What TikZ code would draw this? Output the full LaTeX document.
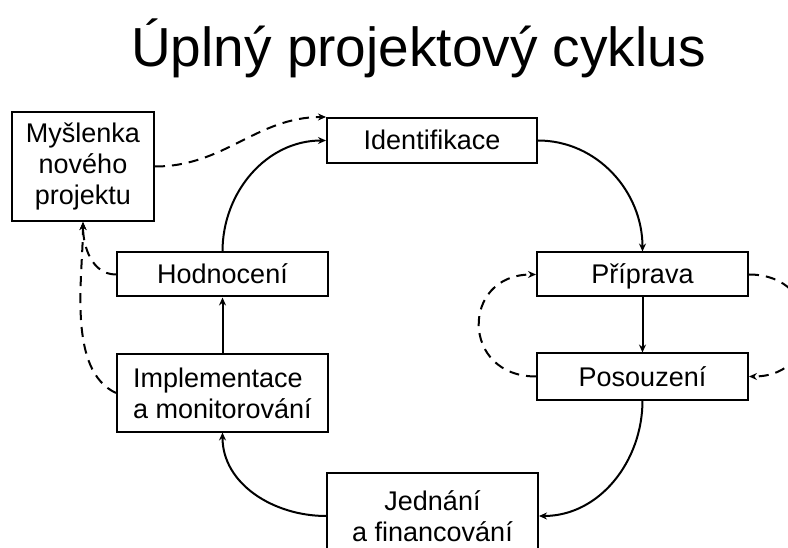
\documentclass[tikz,border=0pt]{standalone}
\usepackage{fontspec}
\setmainfont{Liberation Sans}
\usetikzlibrary{arrows.meta,positioning}

\begin{document}
\begin{tikzpicture}[
  x=1pt, y=-1pt,
  box/.style={rectangle, draw=black, line width=2pt, align=center, inner sep=0pt, minimum width=211pt, minimum height=44pt, font=\fontsize{27}{31}\selectfont},
  onebox/.style={box, text height=19pt, text depth=0pt},
  line/.style={-{Stealth[length=8pt,width=7pt]}, line width=2pt},
  dashline/.style={line, dash pattern=on 10pt off 7pt}
]
\useasboundingbox[fill=white] (0,0) rectangle (788,548);

\node[anchor=base west, font=\fontsize{55}{60}\selectfont, inner sep=0pt] (title) at (131,67) {Úplný projektový cyklus};

\node[box, minimum width=142pt, minimum height=109pt] (idea) at (83,166.5) {Myšlenka\\nového\\projektu};
\node[onebox, minimum width=210pt, minimum height=45pt] (ident) at (432,140.5) {Identifikace};
\node[onebox] (prep) at (642.5,274.5) {Příprava};
\node[onebox, below=55pt of prep, minimum height=46pt] (appr) {Posouzení};
\node[box, anchor=north, minimum height=86pt] (negot) at (432.5,472) {Jednání\\a financování};
\node[onebox] (eval) at (222.5,274.5) {Hodnocení};
\node[box, below=56pt of eval, minimum height=77pt, align=left] (impl) {Implementace\\a monitorování};

% main cycle
\draw[line] (ident.east) to[out=0, in=90] (prep.north);
\draw[line] (prep) -- (appr);
\draw[line] (appr.south) to[out=-90, in=0] (negot.east);
\draw[line] (negot.west) to[out=180, in=-90] (impl.south);
\draw[line] (impl) -- (eval);
\draw[line] (eval.north) to[out=90, in=180] (ident.west);

% feedback loops
\draw[dashline] (idea.east) to[out=0, in=180] (ident.north west);
\draw[dashline] (eval.west) to[out=180, in=-90] (idea.south);
\draw[dashline] (impl.west) to[out=155, in=-90, looseness=0.8] (idea.south);
\draw[dashline] (appr.west) to[out=180, in=180, looseness=1.9] (prep.west);
\draw[dashline] (prep.east) to[out=0, in=0, looseness=1.9] (appr.east);
\end{tikzpicture}
\end{document}
